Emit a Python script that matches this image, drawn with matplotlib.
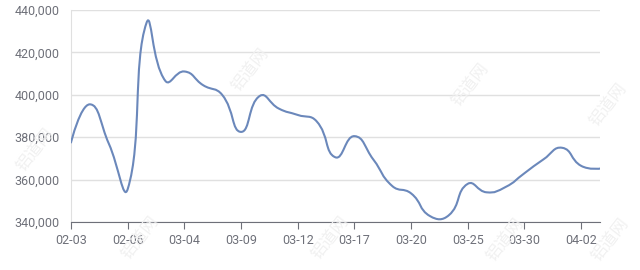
import matplotlib
matplotlib.use("Agg")
import matplotlib.pyplot as plt
from matplotlib.path import Path
from matplotlib.patches import PathPatch
from matplotlib.ticker import FuncFormatter
import numpy as np

# data
dates = ["02-03", "02-04", "02-05", "02-06", "02-07", "03-03", "03-04", "03-05",
         "03-06", "03-09", "03-10", "03-11", "03-12", "03-13", "03-16", "03-17",
         "03-18", "03-19", "03-20", "03-23", "03-24", "03-25", "03-26", "03-27",
         "03-30", "03-31", "04-01", "04-02", "04-03"]
values = [377500, 395500, 377000, 355500, 434000, 406500, 411000, 404500,
          400000, 382500, 399500, 393500, 390500, 387500, 370500, 380500,
          369500, 357000, 353500, 342800, 343200, 358000, 354000, 356500,
          363000, 369500, 375000, 366500, 365200]

plt.rcParams['font.family'] = ['Roboto', 'DejaVu Sans']

fig = plt.figure(figsize=(6.4, 2.7), dpi=100)
ax = fig.add_axes([71/640, 1-222/270, (600-71)/640, (222-10)/270])

# faint watermarks
for (wx, wy) in [(250, 70), (470, 85), (608, 105), (35, 150), (140, 238), (330, 238), (505, 240), (610, 240)]:
    fig.text(wx/640, 1-wy/270, "铝道网", rotation=52, fontsize=12, color="#f1f1f1",
             ha="center", va="center", family=['Noto Sans CJK SC'], zorder=0)

# smooth line, echarts style bezier (smooth=0.5), computed in pixel-like space
sx, sy = 18.9, 2.125 / 1000
px = [i * sx for i in range(len(values))]
py = [v * sy for v in values]
smooth = 0.5
verts = [(0, values[0])]
codes = [Path.MOVETO]
cp0 = (px[0], py[0])
for k in range(1, len(values)):
    x, y = px[k], py[k]
    if k == len(values) - 1:
        cp1 = (x, y)
        nxt = None
    else:
        vx = px[k+1] - px[k-1]
        vy = py[k+1] - py[k-1]
        lp = np.hypot(x - px[k-1], y - py[k-1])
        ln = np.hypot(px[k+1] - x, py[k+1] - y)
        r = ln / (ln + lp)
        cp1 = (x - vx * smooth * (1 - r), y - vy * smooth * (1 - r))
        nxt = (x + vx * smooth * r, y + vy * smooth * r)
    for p in (cp0, cp1, (x, y)):
        verts.append((p[0] / sx, p[1] / sy))
        codes.append(Path.CURVE4)
    cp0 = nxt
ax.add_patch(PathPatch(Path(verts, codes), fill=False, edgecolor="#6b88bb", lw=1.5,
                       capstyle="round", joinstyle="round", zorder=3))

ax.set_xlim(0, len(values) - 1)
ax.set_ylim(340000, 440000)
ax.set_yticks(np.arange(340000, 440001, 20000))
ax.yaxis.set_major_formatter(FuncFormatter(lambda v, p: f"{int(v):,}"))
ax.set_xticks(range(0, len(dates), 3))
ax.set_xticklabels(dates[::3])

ax.patch.set_alpha(0)
ax.grid(axis="y", color="#e0e0e0", lw=1)
ax.set_axisbelow(True)
for s in ["top", "right"]:
    ax.spines[s].set_visible(False)
ax.spines["left"].set_color("#e0e0e0")
ax.spines["bottom"].set_color("#6e7079")
ax.tick_params(axis="y", length=0, pad=8, labelsize=9, labelcolor="#6e7079")
ax.tick_params(axis="x", length=5, color="#6e7079", pad=4, labelsize=9, labelcolor="#6e7079")

fig.savefig("out.png", dpi=100)
